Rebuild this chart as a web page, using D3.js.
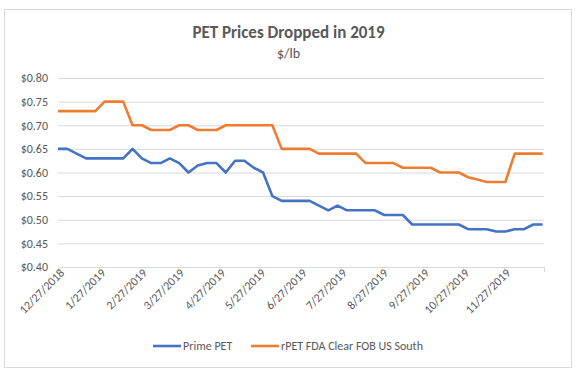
<!DOCTYPE html>
<html>
<head>
<meta charset="utf-8">
<script src="https://cdn.jsdelivr.net/npm/d3@7"></script>
<style>
  body { margin: 0; background: #fff; }
  text { font-family: Carlito, Lato, "Open Sans", sans-serif; fill: #595959; }
</style>
</head>
<body>
<div id="chart"></div>
<script>
// PET price series, weekly from 12/27/2018
const startDate = "2018-12-27";
const primePET = [
  0.65, 0.65, 0.64, 0.63, 0.63, 0.63, 0.63, 0.63, 0.65, 0.63,
  0.62, 0.62, 0.63, 0.62, 0.60, 0.615, 0.62, 0.62, 0.60, 0.625,
  0.625, 0.61, 0.60, 0.55, 0.54, 0.54, 0.54, 0.54, 0.53, 0.52,
  0.53, 0.52, 0.52, 0.52, 0.52, 0.51, 0.51, 0.51, 0.49, 0.49,
  0.49, 0.49, 0.49, 0.49, 0.48, 0.48, 0.48, 0.475, 0.475, 0.48,
  0.48, 0.49, 0.49
];
const rPET = [
  0.73, 0.73, 0.73, 0.73, 0.73, 0.75, 0.75, 0.75, 0.70, 0.70,
  0.69, 0.69, 0.69, 0.70, 0.70, 0.69, 0.69, 0.69, 0.70, 0.70,
  0.70, 0.70, 0.70, 0.70, 0.65, 0.65, 0.65, 0.65, 0.64, 0.64,
  0.64, 0.64, 0.64, 0.62, 0.62, 0.62, 0.62, 0.61, 0.61, 0.61,
  0.61, 0.60, 0.60, 0.60, 0.59, 0.585, 0.58, 0.58, 0.58, 0.64,
  0.64, 0.64, 0.64
];
const seriesNames = ["Prime PET", "rPET FDA Clear FOB US South"];
const seriesColors = ["#4472C4", "#ED7D31"];
const yTicks = [0.40, 0.45, 0.50, 0.55, 0.60, 0.65, 0.70, 0.75, 0.80];

const W = 577, H = 374;
const plot = {left: 58, right: 544, top: 78, bottom: 267};

const parse = d3.timeParse("%Y-%m-%d");
const d0 = parse(startDate);
const dates = primePET.map((_, i) => d3.timeDay.offset(d0, i * 7));

const svg = d3.select("#chart").append("svg")
    .attr("width", W)
    .attr("height", H);

// chart frame
svg.append("rect")
    .attr("x", 4.5).attr("y", 9.5)
    .attr("width", 567).attr("height", 358)
    .attr("fill", "#fff")
    .attr("stroke", "#d9d9d9");

const x = d3.scaleTime()
    .domain([d0, parse("2019-12-27")])
    .range([plot.left, plot.right]);

const y = d3.scaleLinear()
    .domain([0.40, 0.80])
    .range([plot.bottom, plot.top]);

// gridlines + y labels
const yAxis = svg.append("g")
    .attr("transform", `translate(${plot.left},0)`)
    .call(d3.axisLeft(y).tickValues(yTicks)
        .tickSize(-(plot.right - plot.left))
        .tickPadding(10)
        .tickFormat(d => "$" + d.toFixed(2)));
yAxis.select(".domain").remove();
yAxis.selectAll(".tick line").attr("stroke", "#d9d9d9");
yAxis.selectAll(".tick text").style("font-size", "12px");

// x axis
const monthTicks = d3.range(0, 13).map(m => d3.timeMonth.offset(d0, m));
const xAxis = svg.append("g")
    .attr("transform", `translate(0,${plot.bottom})`)
    .call(d3.axisBottom(x).tickValues(monthTicks)
        .tickSize(5)
        .tickSizeOuter(0)
        .tickFormat((d, i) => i < 12 ? d3.timeFormat("%-m/%-d/%Y")(d) : ""));
xAxis.select(".domain").attr("stroke", "#d9d9d9");
xAxis.selectAll(".tick line").attr("stroke", "#d9d9d9");
xAxis.selectAll(".tick text")
    .style("font-size", "12px")
    .attr("text-anchor", "end")
    .attr("dy", null)
    .attr("transform", "translate(1,1) rotate(-45)");

// lines
const line = d3.line()
    .x((d, i) => x(dates[i]))
    .y(d => y(d));

[primePET, rPET].forEach((s, k) => {
    svg.append("path")
        .datum(s)
        .attr("fill", "none")
        .attr("stroke", seriesColors[k])
        .attr("stroke-width", 2.6)
        .attr("stroke-linejoin", "round")
        .attr("d", line);
});

// titles
svg.append("text")
    .attr("x", W / 2).attr("y", 38)
    .attr("text-anchor", "middle")
    .style("font-size", "17px")
    .style("font-weight", "bold")
    .text("PET Prices Dropped in 2019");

svg.append("text")
    .attr("x", W / 2).attr("y", 58)
    .attr("text-anchor", "middle")
    .style("font-size", "14px")
    .text("$/lb");

// legend
const legendX = [153, 251];
seriesNames.forEach((name, k) => {
    const g = svg.append("g")
        .attr("transform", `translate(${legendX[k]},346)`);
    g.append("line")
        .attr("x1", 0).attr("x2", 28)
        .attr("stroke", seriesColors[k])
        .attr("stroke-width", 2.6);
    g.append("text")
        .attr("x", 30).attr("y", 4)
        .style("font-size", "12px")
        .text(name);
});
</script>
</body>
</html>
